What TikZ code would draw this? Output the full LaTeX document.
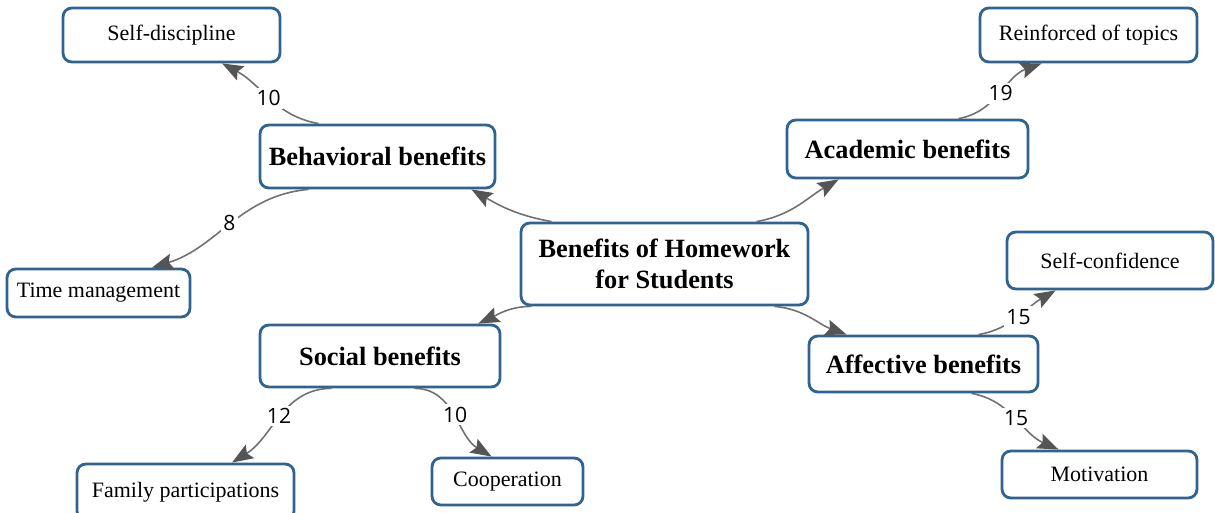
\documentclass[tikz,border=0pt]{standalone}
\usepackage{fontspec}
\setmainfont{Liberation Serif}
\newfontfamily\numfont{Open Sans}
\usetikzlibrary{arrows.meta,calc}
\definecolor{boxblue}{RGB}{46,99,148}
\definecolor{linkgray}{RGB}{112,112,112}
\definecolor{tipgray}{RGB}{85,85,85}
\begin{document}
\begin{tikzpicture}[x=0.02cm,y=0.02cm,
	box/.style={draw=boxblue,line width=1.6pt,rounded corners=5pt,fill=white,inner sep=0pt,align=center},
	mainbox/.style={box,font=\fontsize{15}{17.5}\selectfont\bfseries},
	leafbox/.style={box,font=\fontsize{12.5}{15}\selectfont},
	link/.style={draw=linkgray,line width=0.9pt,-{Stealth[length=12pt,width=9pt,inset=2pt,color=tipgray]}},
	num/.style={font=\numfont\fontsize{12}{14}\selectfont,fill=white,inner sep=1.5pt}]
		\useasboundingbox (0,0) rectangle (1215,-513);
		\clip (0,0) rectangle (1215,-513);
		\node[mainbox,minimum width=5.74cm,minimum height=1.64cm] (hub) at (664.5,-264) {Benefits of Homework\\for Students};
		\node[mainbox,minimum width=4.70cm,minimum height=1.26cm] (behav) at (377.5,-156.5) {Behavioral benefits};
		\node[mainbox,minimum width=4.82cm,minimum height=1.16cm] (acad) at (907.5,-149) {Academic benefits};
		\node[mainbox,minimum width=4.80cm,minimum height=1.24cm] (social) at (380,-356) {Social benefits};
		\node[mainbox,minimum width=4.58cm,minimum height=1.12cm] (affect) at (923.5,-364) {Affective benefits};
		\node[leafbox,minimum width=4.34cm,minimum height=1.08cm] (selfdisc) at (171.5,-35) {Self-discipline};
		\node[leafbox,minimum width=3.66cm,minimum height=0.96cm] (timemgmt) at (98.5,-293) {Time management};
		\node[leafbox,minimum width=4.34cm,minimum height=1.12cm] (family) at (185.5,-492) {Family participations};
		\node[leafbox,minimum width=3.02cm,minimum height=0.94cm] (coop) at (507.5,-481.5) {Cooperation};
		\node[leafbox,minimum width=4.34cm,minimum height=1.08cm] (reinf) at (1088.5,-35) {Reinforced of topics};
		\node[leafbox,minimum width=4.12cm,minimum height=1.14cm] (selfconf) at (1110,-260.5) {Self-confidence};
		\node[leafbox,minimum width=3.90cm,minimum height=0.94cm] (motiv) at (1099.5,-474.5) {Motivation};
		\draw[link] ($(hub.north west)+(32,0)$) to[out=170,in=-30] ($(behav.south east)+(-25,0)$);
		\draw[link] ($(hub.north east)+(-53,0)$) to[out=10,in=-150] ($(acad.south west)+(53,0)$);
		\draw[link] ($(hub.south west)+(12,0)$) to[out=180,in=25] ($(social.north east)+(-23,0)$);
		\draw[link] ($(hub.south east)+(-35,0)$) to[out=-5,in=160] ($(affect.north west)+(39,0)$);
		\draw[link] ($(behav.north west)+(60,0)$) to[out=170,in=-28] node[num] {10} ($(selfdisc.south)+(50.5,0)$);
		\draw[link] ($(behav.south west)+(50,0)$) to[out=185,in=17] node[num] {8} ($(timemgmt.north)+(53.5,0)$);
		\draw[link] ($(acad.north east)+(-71,0)$) to[out=10,in=-160] node[num] {19} ($(reinf.south west)+(63,0)$);
		\draw[link] ($(affect.north east)+(-61,0)$) to[out=10,in=-150] node[num] {15} ($(selfconf.south west)+(50,0)$);
		\draw[link] ($(affect.south east)+(-68,0)$) to[out=-10,in=156] node[num] {15} ($(motiv.north west)+(58,0)$);
		\draw[link] ($(social.south west)+(73,0)$) to[out=180,in=32] node[num] {12} ($(family.north)+(46.5,0)$);
		\draw[link] ($(social.south east)+(-87,0)$) to[out=0,in=149] node[num] {10} ($(coop.north west)+(61,0)$);
\end{tikzpicture}
\end{document}
